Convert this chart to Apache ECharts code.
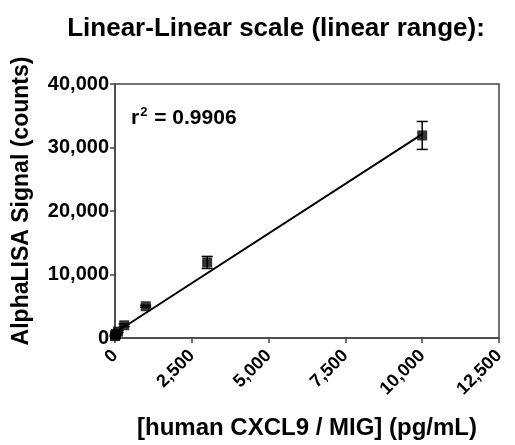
<!DOCTYPE html>
<html>
<head>
<meta charset="utf-8">
<script src="https://cdn.jsdelivr.net/npm/echarts@6/dist/echarts.min.js"></script>
<style>html,body{margin:0;padding:0;background:#fff}#c{width:515px;height:445px}</style>
</head>
<body>
<div id="c"></div>
<script>
var concentrations = [3, 10, 30, 100, 300, 1000, 3000, 10000];
var signals = [300, 450, 650, 1000, 2000, 5000, 11900, 31900];
var errors = [100, 100, 120, 150, 200, 150, 950, 2200];
var fitLine = [[30, 900], [10000, 32100]];
var xTicks = [0, 2500, 5000, 7500, 10000, 12500];
var yTicks = [0, 10000, 20000, 30000, 40000];

var FONT = 'Liberation Sans, Arial, sans-serif';
function fmt(v){ return v.toString().replace(/\B(?=(\d{3})+(?!\d))/g, ','); }

var points = concentrations.map(function(c,i){ return [c, signals[i]]; });
var errData = concentrations.map(function(c,i){ return [c, signals[i]-errors[i], signals[i]+errors[i]]; });

var chart = echarts.init(document.getElementById('c'), null, {renderer:'canvas'});
chart.setOption({
  animation: false,
  backgroundColor: '#fff',
  title: {
    text: 'Linear-Linear scale (linear range):',
    left: 271, top: 11, textAlign: 'center',
    textStyle: {fontFamily: FONT, fontWeight: 'bold', fontSize: 26, color: '#000'}
  },
  graphic: [{
    type: 'text', left: 131, top: 106,
    style: {
      text: '{a|r}{s|2}{a| = 0.9906}',
      rich: {
        a: {fontFamily: FONT, fontWeight: 'bold', fontSize: 21, fill: '#000', color:'#000'},
        s: {fontFamily: FONT, fontWeight: 'bold', fontSize: 13, fill: '#000', color:'#000', verticalAlign: 'top', padding:[0,1,12,1]}
      }
    }
  }],
  grid: {left: 115, top: 84, width: 384, height: 254, show: true, borderColor: '#444', borderWidth: 1.5, backgroundColor: 'transparent'},
  xAxis: {
    type: 'value', min: 0, max: 12500, interval: 2500,
    name: '[human CXCL9 / MIG] (pg/mL)', nameLocation: 'middle', nameGap: 78,
    nameTextStyle: {fontFamily: FONT, fontWeight: 'bold', fontSize: 24, color: '#000'},
    axisLine: {show: true, lineStyle: {color: '#444', width: 1.5}},
    axisTick: {show: true, length: 5, lineStyle: {color: '#444', width: 1.5}},
    splitLine: {show: false},
    axisLabel: {rotate: 45, margin: 15, fontFamily: FONT, fontWeight: 'bold', fontSize: 18, color: '#000',
      formatter: function(v){ return xTicks.indexOf(v) >= 0 ? fmt(v) : ''; }}
  },
  yAxis: {
    type: 'value', min: 0, max: 40000, interval: 10000,
    name: 'AlphaLISA Signal (counts)', nameLocation: 'middle', nameGap: 82,
    nameTextStyle: {fontFamily: FONT, fontWeight: 'bold', fontSize: 23, color: '#000', padding: [0,0,0,20]},
    axisLine: {show: true, lineStyle: {color: '#444', width: 1.5}},
    axisTick: {show: true, length: 5, lineStyle: {color: '#444', width: 1.5}},
    splitLine: {show: false},
    axisLabel: {margin: 6, fontFamily: FONT, fontWeight: 'bold', fontSize: 20, color: '#000',
      formatter: function(v){ return yTicks.indexOf(v) >= 0 ? fmt(v) : ''; }}
  },
  series: [
    {
      type: 'line', data: fitLine, showSymbol: false, symbol: 'none',
      lineStyle: {color: '#000', width: 2}, z: 2
    },
    {
      type: 'custom', data: errData, z: 3,
      renderItem: function(params, api){
        var x = api.value(0), lo = api.value(1), hi = api.value(2);
        var pLo = api.coord([x, lo]), pHi = api.coord([x, hi]);
        var hw = 5.5;
        var st = {stroke: '#000', lineWidth: 1.5};
        return {type: 'group', children: [
          {type: 'line', shape: {x1: pLo[0], y1: pLo[1], x2: pHi[0], y2: pHi[1]}, style: st},
          {type: 'line', shape: {x1: pLo[0]-hw, y1: pLo[1], x2: pLo[0]+hw, y2: pLo[1]}, style: st},
          {type: 'line', shape: {x1: pHi[0]-hw, y1: pHi[1], x2: pHi[0]+hw, y2: pHi[1]}, style: st}
        ]};
      }
    },
    {
      type: 'scatter', data: points, symbol: 'rect', symbolSize: 10,
      itemStyle: {color: '#000'}, z: 4
    }
  ]
});
</script>
</body>
</html>
